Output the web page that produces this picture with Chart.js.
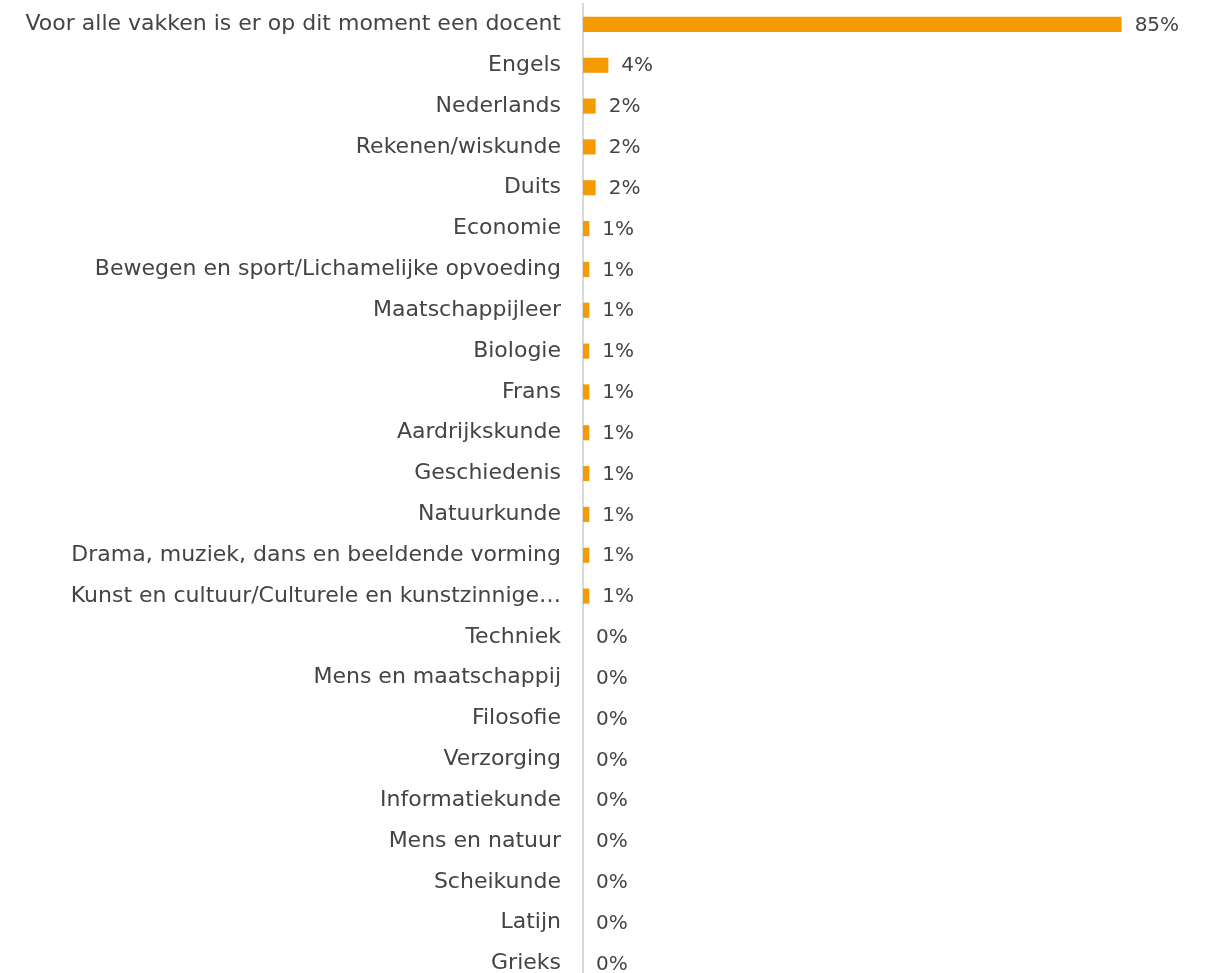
<!DOCTYPE html>
<html>
<head>
<meta charset="utf-8">
<script src="https://cdn.jsdelivr.net/npm/chart.js@4"></script>
<style>
    html, body { margin: 0; padding: 0; background: #fff; overflow: hidden; }
    #wrap { width: 1206px; height: 984px; position: relative; }
</style>
</head>
<body>
<div id="wrap"><canvas id="myChart"></canvas></div>
<script>
const categories = [
    'Voor alle vakken is er op dit moment een docent',
    'Engels',
    'Nederlands',
    'Rekenen/wiskunde',
    'Duits',
    'Economie',
    'Bewegen en sport/Lichamelijke opvoeding',
    'Maatschappijleer',
    'Biologie',
    'Frans',
    'Aardrijkskunde',
    'Geschiedenis',
    'Natuurkunde',
    'Drama, muziek, dans en beeldende vorming',
    'Kunst en cultuur/Culturele en kunstzinnige…',
    'Techniek',
    'Mens en maatschappij',
    'Filosofie',
    'Verzorging',
    'Informatiekunde',
    'Mens en natuur',
    'Scheikunde',
    'Latijn',
    'Grieks'
];

const values = [85, 4, 2, 2, 2, 1, 1, 1, 1, 1, 1, 1, 1, 1, 1, 0, 0, 0, 0, 0, 0, 0, 0, 0];

const textColor = '#444444';
const fontFamily = "'DejaVu Sans', sans-serif";

// draws the percentage next to each bar
const valueLabels = {
    id: 'valueLabels',
    afterDatasetsDraw(chart) {
        const ctx = chart.ctx;
        const meta = chart.getDatasetMeta(0);
        ctx.save();
        ctx.font = '20px ' + fontFamily;
        ctx.fillStyle = textColor;
        ctx.textAlign = 'left';
        ctx.textBaseline = 'middle';
        meta.data.forEach((bar, i) => {
            ctx.fillText(values[i] + '%', bar.x + 13, bar.y + 1);
        });
        ctx.restore();
    }
};

new Chart(document.getElementById('myChart'), {
    type: 'bar',
    data: {
        labels: categories,
        datasets: [{
            data: values,
            backgroundColor: '#f59b00',
            borderWidth: 0,
            barPercentage: 0.37,
            categoryPercentage: 1
        }]
    },
    options: {
        indexAxis: 'y',
        responsive: true,
        maintainAspectRatio: false,
        animation: false,
        layout: { padding: { top: 4, right: 21, left: 0, bottom: 0 } },
        scales: {
            x: {
                display: false,
                min: 0,
                max: 95
            },
            y: {
                afterFit: (scale) => {
                    scale.width = 583;
                    scale.paddingTop = 0;
                    scale.paddingBottom = 0;
                },
                grid: { display: false, drawTicks: false },
                border: { display: true, color: '#d9d9d9', width: 2 },
                ticks: {
                    padding: 22,
                    color: textColor,
                    font: { family: fontFamily, size: 22 },
                    autoSkip: false
                }
            }
        },
        plugins: {
            legend: { display: false },
            tooltip: { enabled: false }
        }
    },
    plugins: [valueLabels]
});
</script>
</body>
</html>
